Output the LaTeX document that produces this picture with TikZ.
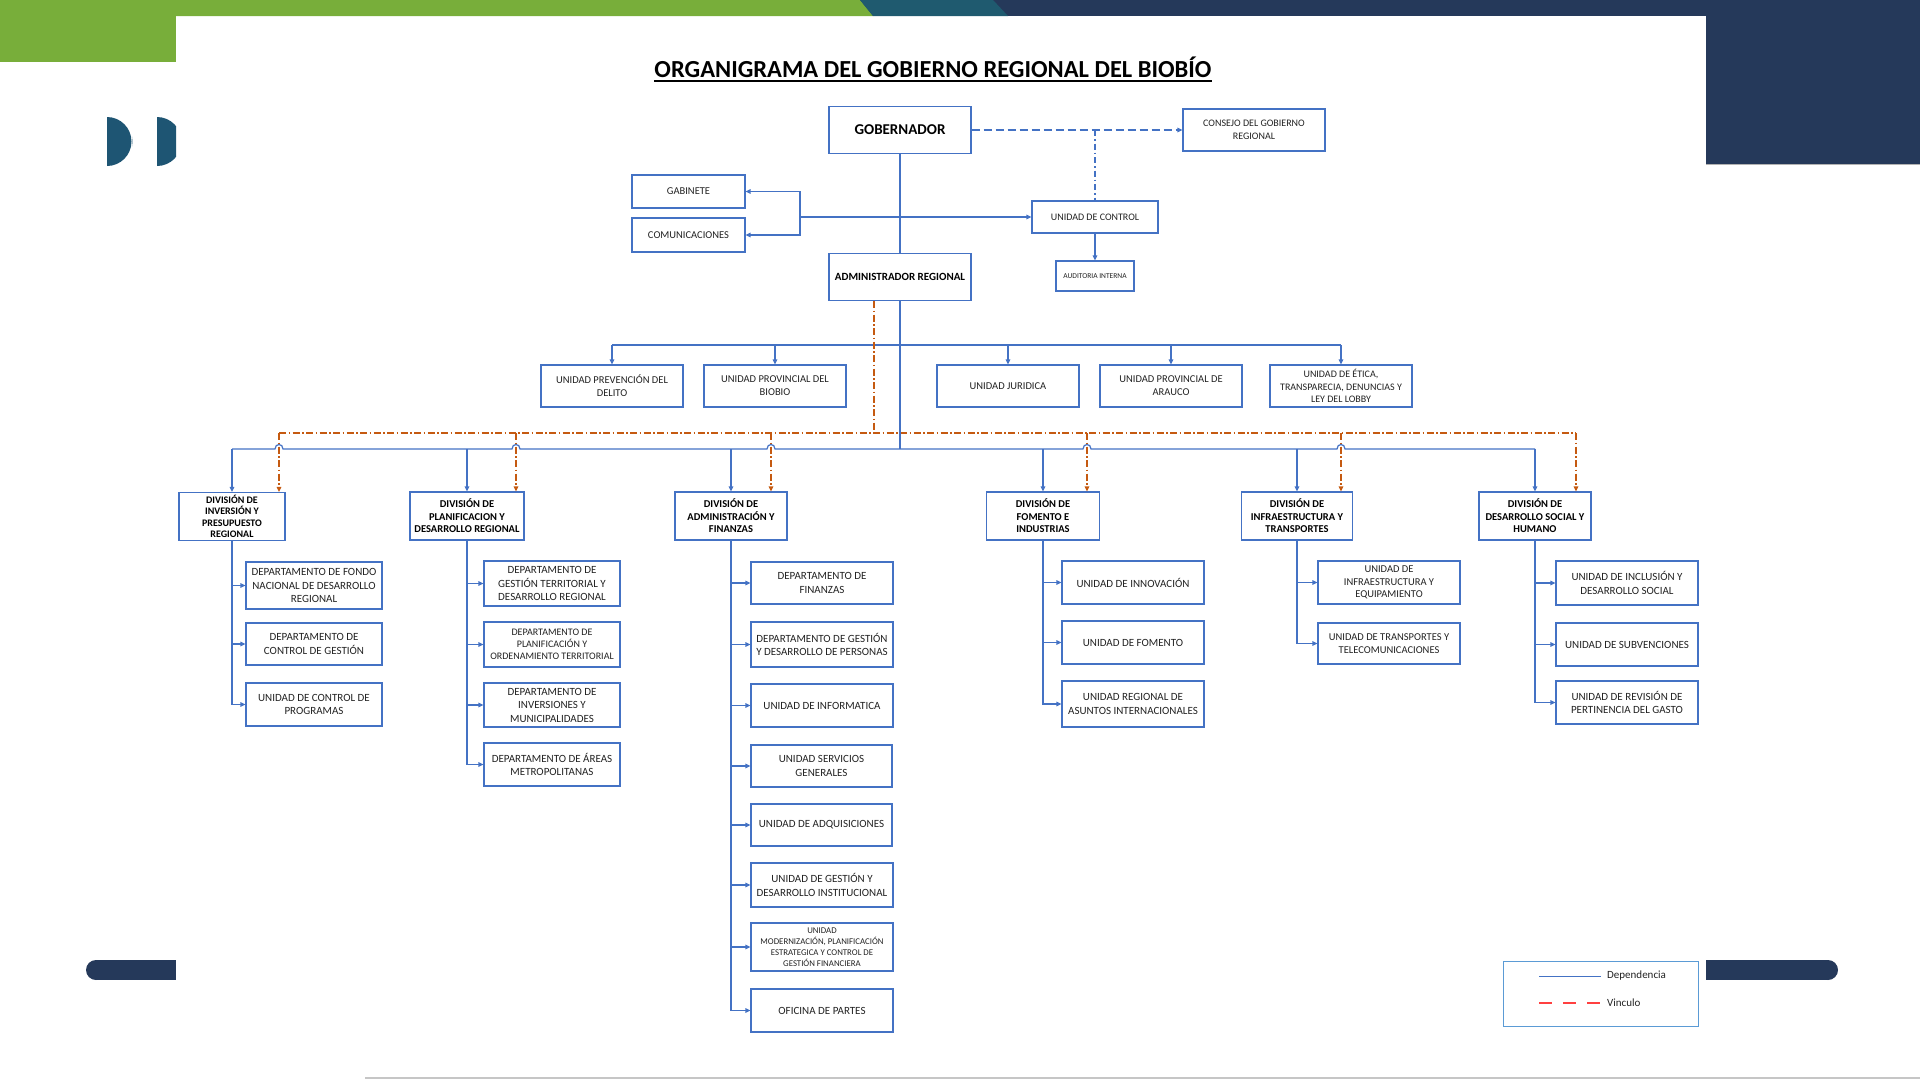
\documentclass[tikz,border=0pt]{standalone}
\usepackage{fontspec}
\setmainfont{Carlito}
\usetikzlibrary{arrows.meta,calc}
\definecolor{gsea}{HTML}{78AE3A}
\definecolor{tealc}{HTML}{1F5A6F}
\definecolor{navy}{HTML}{25395A}
\definecolor{dteal}{HTML}{1E5573}
\definecolor{bblue}{HTML}{4472C4}
\definecolor{vorange}{HTML}{C55A11}
\definecolor{legblue}{HTML}{5B9BD5}
\definecolor{txt}{HTML}{222222}
\begin{document}
\begin{tikzpicture}[x=1pt,y=-1pt,
  box/.style={draw=bblue, line width=1.1pt, align=center, inner sep=1pt, text=txt, font=\fontsize{11}{13.5}\selectfont},
  sbox/.style={box, font=\fontsize{10.5}{13}\selectfont},
  divbox/.style={box, font=\fontsize{10.5}{12.5}\selectfont\bfseries, text=black, minimum height=48pt},
  ln/.style={draw=bblue, line width=1.2pt},
  arr/.style={-{Triangle[length=5pt,width=4.5pt]}},
  vin/.style={draw=vorange, line width=1.2pt, dash pattern=on 7pt off 2.5pt on 1.5pt off 2.5pt},
  oarr/.style={-{Triangle[length=5pt,width=4.5pt,fill=vorange]}}
]
\useasboundingbox (0,0) rectangle (1920,1080);
% ---------- decoration ----------
\fill[navy] (0,0) rectangle (1920,16);
\fill[gsea] (0,0) -- (860,0) -- (873,16) -- (0,16) -- cycle;
\fill[tealc] (860,0) -- (993,0) -- (1008,16) -- (873,16) -- cycle;
\fill[gsea] (0,0) rectangle (176,62);
\fill[navy] (1706,0) rectangle (1920,164);
\draw[gray!60, line width=1pt] (1706,164.5) -- (1920,164.5);
\begin{scope}
  \clip (107,100) rectangle (176,180);
  \fill[dteal] (107,141.5) circle[radius=24.5pt];
  \fill[dteal] (157,141.5) circle[radius=24.5pt];
  \fill[white] (132.5,100) rectangle (157,180);
\end{scope}
\fill[navy] (96,960) rectangle (176,980);
\fill[navy] (96,970) circle[radius=10pt];
\fill[navy] (1706,960) rectangle (1828,980);
\fill[navy] (1828,970) circle[radius=10pt];
\draw[gray!45, line width=1.5pt] (365,1078) -- (1920,1078);
% ---------- title ----------
\node[inner sep=0, anchor=base, font=\fontsize{24.5}{28}\selectfont\bfseries] (title) at (933,77) {ORGANIGRAMA DEL GOBIERNO REGIONAL DEL BIOBÍO};
\draw[line width=1.6pt] ([yshift=-4pt]title.base west) -- ([yshift=-4pt]title.base east);
% ---------- top nodes ----------
\node[box, minimum width=142pt, minimum height=47pt, font=\fontsize{15}{17}\selectfont\bfseries, text=black] (gob) at (900,130) {GOBERNADOR};
\node[box, minimum width=142pt, minimum height=42pt, font=\fontsize{10}{13}\selectfont] (cons) at (1254,130) {CONSEJO DEL GOBIERNO\\REGIONAL};
\node[box, minimum width=113pt, minimum height=33pt, font=\fontsize{10.5}{13}\selectfont] (gab) at (688.5,191.5) {GABINETE};
\node[box, minimum width=113pt, minimum height=34pt, font=\fontsize{10.5}{13}\selectfont] (com) at (688.5,235) {COMUNICACIONES};
\node[box, minimum width=126pt, minimum height=32pt, font=\fontsize{10}{13}\selectfont] (uc) at (1095,217) {UNIDAD DE CONTROL};
\node[box, minimum width=78pt, minimum height=30pt, font=\fontsize{7.5}{9}\selectfont] (aud) at (1095,276) {AUDITORIA INTERNA};
\node[box, minimum width=142pt, minimum height=47pt, font=\fontsize{11}{13}\selectfont\bfseries, text=black] (adm) at (900,277) {ADMINISTRADOR REGIONAL};
\coordinate (jl) at (800,217);
\draw[ln] (gob.south) -- (adm.north);
\draw[ln,arr] (jl) -- (uc.west);
\draw[ln,arr] (jl) |- (gab.east);
\draw[ln,arr] (jl) |- (com.east);
\draw[ln,arr, dash pattern=on 8pt off 4pt] (gob.east) -- (cons.west);
\draw[ln, dash pattern=on 6pt off 3pt on 1.5pt off 3pt] (uc.north |- gob.east) -- (uc.north);
\draw[ln,arr] (uc.south) -- (aud.north);
% ---------- units row ----------
\node[sbox, minimum width=142pt, minimum height=42pt] (u1) at (612,386) {UNIDAD PREVENCIÓN DEL\\DELITO};
\node[sbox, minimum width=142pt, minimum height=42pt] (u2) at (775,386) {UNIDAD PROVINCIAL DEL\\BIOBIO};
\node[sbox, minimum width=142pt, minimum height=42pt] (u3) at (1008,386) {UNIDAD JURIDICA};
\node[sbox, minimum width=142pt, minimum height=42pt] (u4) at (1171,386) {UNIDAD PROVINCIAL DE\\ARAUCO};
\node[sbox, minimum width=142pt, minimum height=42pt, font=\fontsize{10}{12.5}\selectfont] (u5) at (1341,386) {UNIDAD DE ÉTICA,\\TRANSPARECIA, DENUNCIAS Y\\LEY DEL LOBBY};
\coordinate (ub) at (900,345);
\draw[ln] (u1.north |- ub) -- (u5.north |- ub);
\foreach \u in {u1,u2,u3,u4,u5} \draw[ln,arr] (\u.north |- ub) -- (\u.north);
% ---------- divisions ----------
\node[divbox, minimum width=106pt, font=\fontsize{10}{11.5}\selectfont\bfseries] (d1) at (232,516.5) {DIVISIÓN DE\\INVERSIÓN Y\\PRESUPUESTO\\REGIONAL};
\node[divbox, minimum width=114pt] (d2) at (467,516) {DIVISIÓN DE\\PLANIFICACION Y\\DESARROLLO REGIONAL};
\node[divbox, minimum width=112pt] (d3) at (731,516) {DIVISIÓN DE\\ADMINISTRACIÓN Y\\FINANZAS};
\node[divbox, minimum width=113pt] (d4) at (1043,516) {DIVISIÓN DE\\FOMENTO E\\INDUSTRIAS};
\node[divbox, minimum width=111pt] (d5) at (1297,516) {DIVISIÓN DE\\INFRAESTRUCTURA Y\\TRANSPORTES};
\node[divbox, minimum width=112pt] (d6) at (1535,516) {DIVISIÓN DE\\DESARROLLO SOCIAL Y\\HUMANO};
\coordinate (db) at (900,449);
\coordinate (oa) at (874,433);
\coordinate (o1) at (279,433);
\coordinate (o2) at (516,433);
\coordinate (o3) at (771,433);
\coordinate (o4) at (1087,433);
\coordinate (o5) at (1341,433);
\coordinate (o6) at (1576,433);
% orange links
\draw[vin] (adm.south -| oa) -- (oa);
\draw[vin] (o1) -- (o6);
\foreach \k in {1,...,6} \draw[vin,oarr] (o\k) -- (o\k |- d\k.north);
% blue bus with hops
\draw[ln] (d1.north |- db)
  -- ($(o1|-db)+(-4,0)$) .. controls +(0,-6) and +(0,-6) .. ($(o1|-db)+(4,0)$)
  -- ($(o2|-db)+(-4,0)$) .. controls +(0,-6) and +(0,-6) .. ($(o2|-db)+(4,0)$)
  -- ($(o3|-db)+(-4,0)$) .. controls +(0,-6) and +(0,-6) .. ($(o3|-db)+(4,0)$)
  -- ($(o4|-db)+(-4,0)$) .. controls +(0,-6) and +(0,-6) .. ($(o4|-db)+(4,0)$)
  -- ($(o5|-db)+(-4,0)$) .. controls +(0,-6) and +(0,-6) .. ($(o5|-db)+(4,0)$)
  -- (d6.north |- db);
\draw[ln] (adm.south) -- (db);
\foreach \k in {1,...,6} \draw[ln,arr] (d\k.north |- db) -- (d\k.north);
% ---------- column 1 ----------
\node[box, minimum width=136pt, minimum height=47pt] (c11) at (314,585.5) {DEPARTAMENTO DE FONDO\\NACIONAL DE DESARROLLO\\REGIONAL};
\node[box, minimum width=136pt, minimum height=42pt] (c12) at (314,644) {DEPARTAMENTO DE\\CONTROL DE GESTIÓN};
\node[box, minimum width=136pt, minimum height=43pt] (c13) at (314,704.5) {UNIDAD DE CONTROL DE\\PROGRAMAS};
\draw[ln,arr] (d1.south) |- (c13.west);
\foreach \c in {c11,c12} \draw[ln,arr] (d1.south |- \c.west) -- (\c.west);
% ---------- column 2 ----------
\node[box, minimum width=136pt, minimum height=45pt] (c21) at (552,583.5) {DEPARTAMENTO DE\\GESTIÓN TERRITORIAL Y\\DESARROLLO REGIONAL};
\node[box, minimum width=136pt, minimum height=45pt, font=\fontsize{10}{12}\selectfont] (c22) at (552,644.5) {DEPARTAMENTO DE\\PLANIFICACIÓN Y\\ORDENAMIENTO TERRITORIAL};
\node[box, minimum width=136pt, minimum height=44pt] (c23) at (552,705) {DEPARTAMENTO DE\\INVERSIONES Y\\MUNICIPALIDADES};
\node[box, minimum width=136pt, minimum height=43pt] (c24) at (552,764.5) {DEPARTAMENTO DE ÁREAS\\METROPOLITANAS};
\draw[ln,arr] (d2.south) |- (c24.west);
\foreach \c in {c21,c22,c23} \draw[ln,arr] (d2.south |- \c.west) -- (\c.west);
% ---------- column 3 ----------
\node[box, minimum width=142pt, minimum height=42pt] (c31) at (822,583) {DEPARTAMENTO DE\\FINANZAS};
\node[box, minimum width=142pt, minimum height=45pt] (c32) at (822,644.5) {DEPARTAMENTO DE GESTIÓN\\Y DESARROLLO DE PERSONAS};
\node[box, minimum width=142pt, minimum height=43pt] (c33) at (822,705.5) {UNIDAD DE INFORMATICA};
\node[box, minimum width=141pt, minimum height=42pt] (c34) at (821.5,766) {UNIDAD SERVICIOS\\GENERALES};
\node[box, minimum width=141pt, minimum height=42pt] (c35) at (821.5,825) {UNIDAD DE ADQUISICIONES};
\node[box, minimum width=142pt, minimum height=44pt] (c36) at (822,885) {UNIDAD DE GESTIÓN Y\\DESARROLLO INSTITUCIONAL};
\node[box, minimum width=142pt, minimum height=48pt, font=\fontsize{8.8}{10.8}\selectfont] (c37) at (822,947) {UNIDAD\\MODERNIZACIÓN, PLANIFICACIÓN\\ESTRATEGICA Y CONTROL DE\\GESTIÓN FINANCIERA};
\node[box, minimum width=142pt, minimum height=43pt] (c38) at (822,1010.5) {OFICINA DE PARTES};
\draw[ln,arr] (d3.south) |- (c38.west);
\foreach \c in {c31,c32,c33,c34,c35,c36,c37} \draw[ln,arr] (d3.south |- \c.west) -- (\c.west);
% ---------- column 4 ----------
\node[box, minimum width=142pt, minimum height=43pt] (c41) at (1133,582.5) {UNIDAD DE INNOVACIÓN};
\node[box, minimum width=142pt, minimum height=43pt] (c42) at (1133,642.5) {UNIDAD DE FOMENTO};
\node[box, minimum width=142pt, minimum height=46pt] (c43) at (1133,704) {UNIDAD REGIONAL DE\\ASUNTOS INTERNACIONALES};
\draw[ln,arr] (d4.south) |- (c43.west);
\foreach \c in {c41,c42} \draw[ln,arr] (d4.south |- \c.west) -- (\c.west);
% ---------- column 5 ----------
\node[box, minimum width=142pt, minimum height=43pt, font=\fontsize{10.5}{12.5}\selectfont] (c51) at (1389,582.5) {UNIDAD DE\\INFRAESTRUCTURA Y\\EQUIPAMIENTO};
\node[box, minimum width=142pt, minimum height=41pt, font=\fontsize{10.5}{13}\selectfont] (c52) at (1389,643.5) {UNIDAD DE TRANSPORTES Y\\TELECOMUNICACIONES};
\draw[ln,arr] (d5.south) |- (c52.west);
\draw[ln,arr] (d5.south |- c51.west) -- (c51.west);
% ---------- column 6 ----------
\node[box, minimum width=142pt, minimum height=44pt] (c61) at (1627,583) {UNIDAD DE INCLUSIÓN Y\\DESARROLLO SOCIAL};
\node[box, minimum width=142pt, minimum height=43pt] (c62) at (1627,644.5) {UNIDAD DE SUBVENCIONES};
\node[box, minimum width=142pt, minimum height=43pt] (c63) at (1627,702.5) {UNIDAD DE REVISIÓN DE\\PERTINENCIA DEL GASTO};
\draw[ln,arr] (d6.south) |- (c63.west);
\foreach \c in {c61,c62} \draw[ln,arr] (d6.south |- \c.west) -- (\c.west);
% ---------- legend ----------
\node[draw=legblue, line width=1.5pt, minimum width=195pt, minimum height=65pt] (leg) at (1601,994) {};
\coordinate (l1a) at (1539,976);
\coordinate (l1b) at (1601,976);
\coordinate (l2a) at (1539,1003);
\coordinate (l2b) at (1601,1003);
\draw[bblue, line width=1pt] (l1a) -- (l1b);
\draw[red!75, line width=1.4pt, dash pattern=on 13pt off 11pt] (l2a) -- (l2b);
\node[anchor=west, inner sep=0, font=\fontsize{11}{13}\selectfont, text=txt] (ldep) at (1607,976) {Dependencia};
\node[anchor=west, inner sep=0, font=\fontsize{11}{13}\selectfont, text=txt] (lvin) at (1607,1003) {Vinculo};
\end{tikzpicture}
\end{document}
